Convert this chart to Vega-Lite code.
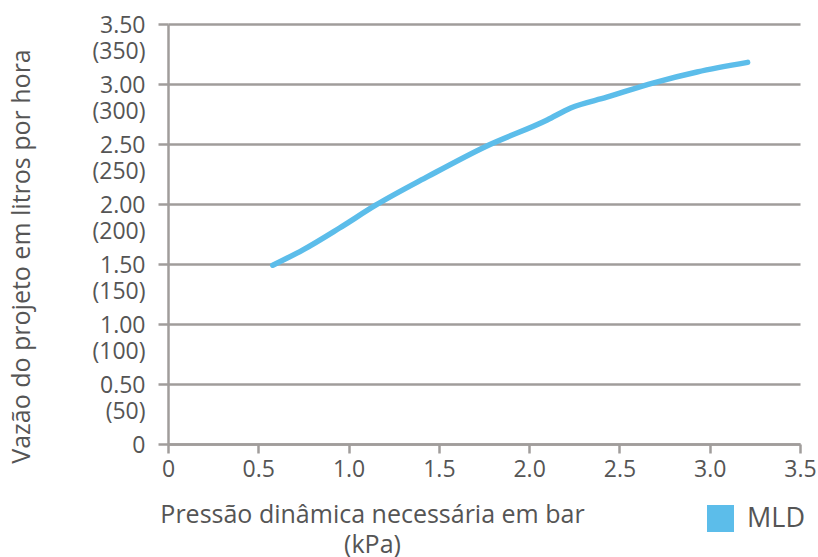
{
  "$schema": "https://vega.github.io/schema/vega-lite/v6.json",
  "width": 632,
  "height": 420,
  "autosize": "none",
  "padding": {"left": 168, "top": 24, "right": 18, "bottom": 113},
  "background": "white",
  "config": {
    "font": "Open Sans",
    "view": {"stroke": null},
    "axis": {
      "labelFont": "Open Sans",
      "labelFontSize": 23,
      "labelColor": "#555555",
      "titleFont": "Open Sans",
      "titleFontSize": 25,
      "titleFontWeight": "normal",
      "titleColor": "#555555",
      "domainColor": "#a09d9b",
      "domainWidth": 2.5,
      "tickColor": "#a09d9b",
      "tickWidth": 2.5,
      "gridColor": "#a09d9b",
      "gridWidth": 2.5,
      "gridOpacity": 1
    }
  },
  "data": {
    "values": [
      {"p": 0.58, "q": 1.49, "s": "MLD"},
      {"p": 0.75, "q": 1.62, "s": "MLD"},
      {"p": 0.95, "q": 1.80, "s": "MLD"},
      {"p": 1.15, "q": 1.99, "s": "MLD"},
      {"p": 1.44, "q": 2.23, "s": "MLD"},
      {"p": 1.76, "q": 2.48, "s": "MLD"},
      {"p": 2.10, "q": 2.70, "s": "MLD"},
      {"p": 2.23, "q": 2.80, "s": "MLD"},
      {"p": 2.43, "q": 2.89, "s": "MLD"},
      {"p": 2.69, "q": 3.01, "s": "MLD"},
      {"p": 2.93, "q": 3.10, "s": "MLD"},
      {"p": 3.21, "q": 3.18, "s": "MLD"}
    ]
  },
  "mark": {"type": "line", "strokeWidth": 5.5, "strokeCap": "round", "interpolate": "monotone"},
  "encoding": {
    "x": {
      "field": "p",
      "type": "quantitative",
      "scale": {"domain": [0, 3.5], "nice": false},
      "axis": {
        "values": [0, 0.5, 1, 1.5, 2, 2.5, 3, 3.5],
        "labelExpr": "datum.value == 0 ? '0' : format(datum.value, '.1f')",
        "grid": false,
        "tickSize": 9,
        "labelPadding": 5,
        "labelFlush": false,
        "title": ["Pressão dinâmica necessária em bar", "(kPa)"],
        "titleAnchor": null,
        "titleAlign": "center",
        "titleX": 204,
        "titleY": 78,
        "titleBaseline": "alphabetic",
        "titleLineHeight": 30
      }
    },
    "y": {
      "field": "q",
      "type": "quantitative",
      "scale": {"domain": [0, 3.5], "nice": false},
      "axis": {
        "values": [0, 0.5, 1, 1.5, 2, 2.5, 3, 3.5],
        "labelExpr": "datum.value == 0 ? '0' : [format(datum.value, '.2f'), '(' + format(datum.value * 100, 'd') + ')']",
        "grid": true,
        "tickSize": 10,
        "labelPadding": 13,
        "labelBaseline": "alphabetic",
        "labelOffset": 8,
        "labelLineHeight": 26,
        "labelFlush": false,
        "title": "Vazão do projeto em litros por hora",
        "titleAngle": -90,
        "titleAlign": "center",
        "titleBaseline": "middle",
        "titleX": -147,
        "titleY": 232
      }
    },
    "color": {
      "field": "s",
      "type": "nominal",
      "scale": {"range": ["#5cbdea"]},
      "legend": {
        "title": null,
        "orient": "none",
        "legendX": 539,
        "legendY": 481,
        "symbolType": "square",
        "symbolSize": 729,
        "symbolStrokeWidth": 0,
        "labelFont": "Open Sans",
        "labelFontSize": 27,
        "labelColor": "#555555",
        "labelOffset": 13,
        "encode": {"symbols": {"update": {"fill": {"value": "#5cbdea"}, "opacity": {"value": 1}}}}
      }
    }
  }
}
